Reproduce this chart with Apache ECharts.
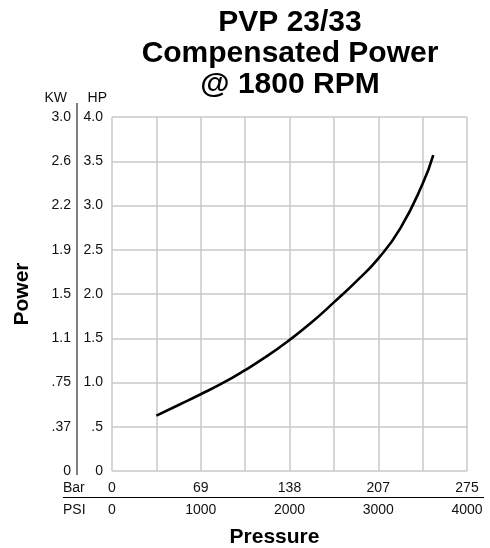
<!DOCTYPE html>
<html>
<head>
<meta charset="utf-8">
<script src="https://cdn.jsdelivr.net/npm/echarts@6/dist/echarts.min.js"></script>
<style>
  html, body { margin: 0; padding: 0; background: #fff; }
  #chart { width: 490px; height: 548px; }
</style>
</head>
<body>
<div id="chart"></div>
<script>
// ---- data ----
const titleLines = ['PVP 23/33', 'Compensated Power', '@ 1800 RPM'];
const psiValues = [500, 750, 1000, 1250, 1500, 1750, 2000, 2250, 2500, 2750, 3000, 3250, 3500, 3620];
const hpValues  = [0.625, 0.746, 0.867, 0.995, 1.141, 1.30, 1.48, 1.68, 1.905, 2.14, 2.40, 2.745, 3.245, 3.57];
const hpTickLabels = ['0', '.5', '1.0', '1.5', '2.0', '2.5', '3.0', '3.5', '4.0'];
const kwTickLabels = ['0', '.37', '.75', '1.1', '1.5', '1.9', '2.2', '2.6', '3.0'];
const barTickLabels = ['0', '69', '138', '207', '275'];
const psiTickLabels = ['0', '1000', '2000', '3000', '4000'];

const FONT = "'Liberation Sans', Arial, Helvetica, sans-serif";
const chart = echarts.init(document.getElementById('chart'), null, { renderer: 'canvas' });

const gridColor = '#c9c9c9';
const labelStyle = { color: '#111', fontSize: 14, fontFamily: FONT };

const option = {
  animation: false,
  backgroundColor: '#fff',
  title: {
    text: titleLines.join('\n'),
    left: 285, top: 2, textAlign: 'center',
    textStyle: { fontSize: 30, fontWeight: 'bold', lineHeight: 31, color: '#000', fontFamily: FONT }
  },
  grid: { left: 112, right: 23, top: 117, bottom: 77, containLabel: false, outerBoundsMode: 'none' },
  xAxis: [
    {
      type: 'value', min: 0, max: 4000, interval: 500,
      axisLine: { show: false }, axisTick: { show: false }, axisLabel: { show: false },
      splitLine: { show: true, lineStyle: { color: gridColor, width: 1.5 } }
    },
    {
      type: 'value', min: 0, max: 4000, interval: 1000, position: 'bottom', offset: 0,
      axisLine: { show: false }, axisTick: { show: false }, splitLine: { show: false },
      axisLabel: Object.assign({ margin: 10, formatter: v => barTickLabels[Math.round(v / 1000)] }, labelStyle)
    },
    {
      type: 'value', min: 0, max: 4000, interval: 1000, position: 'bottom', offset: 22,
      axisLine: { show: false }, axisTick: { show: false }, splitLine: { show: false },
      axisLabel: Object.assign({ margin: 10, formatter: v => psiTickLabels[Math.round(v / 1000)] }, labelStyle),
      name: 'Pressure', nameLocation: 'middle', nameGap: 34,
      nameTextStyle: { fontSize: 21, fontWeight: 'bold', color: '#000', fontFamily: FONT, padding: [0, 30, 0, 0] }
    }
  ],
  yAxis: [
    {
      type: 'value', min: 0, max: 4, interval: 0.5, position: 'left', offset: 0,
      axisLine: { show: false }, axisTick: { show: false },
      splitLine: { show: true, lineStyle: { color: gridColor, width: 1.5 } },
      axisLabel: Object.assign({ margin: 9, formatter: v => hpTickLabels[Math.round(v / 0.5)] }, labelStyle)
    },
    {
      type: 'value', min: 0, max: 4, interval: 0.5, position: 'left', offset: 35,
      axisLine: { show: false }, axisTick: { show: false }, splitLine: { show: false },
      axisLabel: Object.assign({ margin: 6, formatter: v => kwTickLabels[Math.round(v / 0.5)] }, labelStyle),
      name: 'Power', nameLocation: 'middle', nameGap: 44, nameRotate: 90,
      nameTextStyle: { fontSize: 21, fontWeight: 'bold', color: '#000', fontFamily: FONT }
    }
  ],
  graphic: [
    { type: 'line', shape: { x1: 77, y1: 103, x2: 77, y2: 475 }, style: { stroke: '#000', lineWidth: 1 } },
    { type: 'line', shape: { x1: 63, y1: 497.5, x2: 484, y2: 497.5 }, style: { stroke: '#000', lineWidth: 1.2 } },
    { type: 'text', x: 67, y: 98, style: { text: 'KW', fill: '#111', font: '14px ' + FONT, align: 'right', verticalAlign: 'middle' } },
    { type: 'text', x: 107, y: 98, style: { text: 'HP', fill: '#111', font: '14px ' + FONT, align: 'right', verticalAlign: 'middle' } },
    { type: 'text', x: 63, y: 488, style: { text: 'Bar', fill: '#111', font: '14px ' + FONT, align: 'left', verticalAlign: 'middle' } },
    { type: 'text', x: 63, y: 510, style: { text: 'PSI', fill: '#111', font: '14px ' + FONT, align: 'left', verticalAlign: 'middle' } }
  ],
  series: [
    {
      type: 'line', xAxisIndex: 0, yAxisIndex: 0,
      data: psiValues.map((p, i) => [p, hpValues[i]]),
      smooth: 0.5, showSymbol: false,
      lineStyle: { color: '#000', width: 2.6 }
    }
  ]
};
chart.setOption(option);
</script>
</body>
</html>
